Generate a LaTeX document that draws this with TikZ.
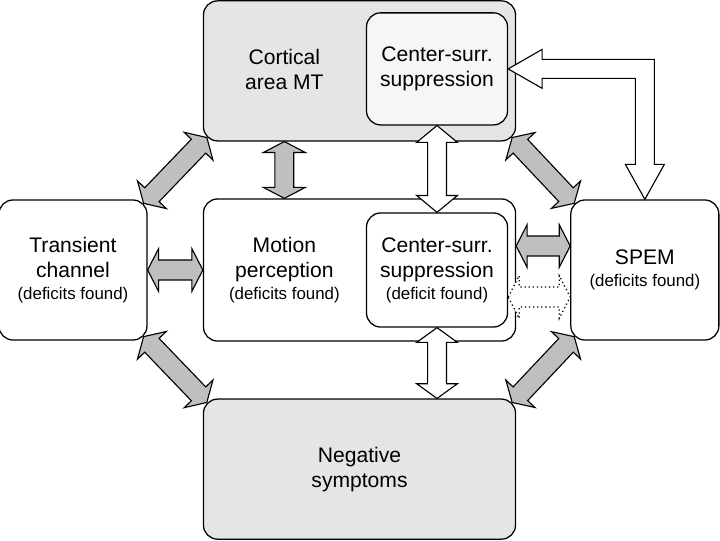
\documentclass[tikz,border=0pt]{standalone}
\usepackage{fontspec}
\setmainfont{Liberation Sans}
\usetikzlibrary{positioning,calc}

\newcommand{\found}[1]{{\fontsize{12}{14}\selectfont #1}}
\newcommand{\dblarrow}[6][]{%
  \path[#1] let \p1=(#2), \p2=(#3), \n1={atan2(\y2-\y1,\x2-\x1)} in
    (\p1) -- ($(\p1)+(\n1:#4)+(\n1+90:#6)$) -- ($(\p1)+(\n1:#4)+(\n1+90:#5)$)
    -- ($(\p2)+(\n1+180:#4)+(\n1+90:#5)$) -- ($(\p2)+(\n1+180:#4)+(\n1+90:#6)$)
    -- (\p2) -- ($(\p2)+(\n1+180:#4)+(\n1-90:#6)$) -- ($(\p2)+(\n1+180:#4)+(\n1-90:#5)$)
    -- ($(\p1)+(\n1:#4)+(\n1-90:#5)$) -- ($(\p1)+(\n1:#4)+(\n1-90:#6)$) -- cycle;}

\begin{document}
\begin{tikzpicture}[x=0.025cm,y=-0.025cm,node distance=1.42cm,
    box/.style={draw,line width=0.9pt,rounded corners=10pt,align=center,
      font=\fontsize{15}{17.7}\selectfont},
    bigbox/.style={box,minimum width=7.8cm,minimum height=3.5cm},
    sidebox/.style={box,minimum width=3.7cm,minimum height=3.5cm},
    innerbox/.style={box,minimum width=3.525cm,minimum height=2.85cm},
    lbl/.style={align=center,font=\fontsize{15}{17.7}\selectfont},
    grayarrow/.style={draw,line width=0.8pt,fill=gray!50},
    whitearrow/.style={draw,line width=0.8pt,fill=white},
    dotarrow/.style={draw,line width=0.9pt,dotted,fill=white}]
  \useasboundingbox (0,0) rectangle (720,540);

  \node[bigbox,minimum height=3.55cm] (motion) at (359.5,270) {};
  \node[bigbox,fill=gray!20] (mt)    [above=of motion] {};
  \node[bigbox,fill=gray!20] (neg)   [below=of motion] {Negative\\symptoms};
  \node[sidebox]             (trans) [left=1.38cm of motion]
    {Transient\\channel\\[-2pt]\found{(deficits found)}};
  \node[sidebox]             (spem)  [right=1.35cm of motion]
    {SPEM\\[-2pt]\found{(deficits found)}};
  \node[innerbox,fill=gray!7,minimum height=2.8cm] (mtcs)
    [left=0.2cm of mt.east,yshift=0.05cm] {Center-surr.\\suppression};
  \node[innerbox]            (mocs)  [left=0.2cm of motion.east]
    {Center-surr.\\suppression\\[-2pt]\found{(deficit found)}};
  \node[lbl] (mtlbl) at ($(mt.west)!0.5!(mtcs.west)$) {Cortical\\area MT};
  \node[lbl] (molbl) at ($(motion.west)!0.5!(mocs.west)$)
    {Motion\\perception\\[-2pt]\found{(deficits found)}};

  \coordinate (tl1) at ($(trans.north east)+(-4,4)$);
  \coordinate (tl2) at ($(mt.south west)+(4,-4)$);
  \coordinate (tr1) at ($(mt.south east)+(-4,-4)$);
  \coordinate (tr2) at ($(spem.north west)+(4,4)$);
  \coordinate (bl1) at ($(trans.south east)+(-4,-4)$);
  \coordinate (bl2) at ($(neg.north west)+(4,4)$);
  \coordinate (br1) at ($(spem.south west)+(4,-4)$);
  \coordinate (br2) at ($(neg.north east)+(-4,4)$);
  \coordinate (rg)  at ($(motion.east)+(0,-24)$);
  \coordinate (rd)  at ($(mocs.east)+(0,27)$);
  \coordinate (lc)  at (mtcs.east -| spem.north);

  \dblarrow[grayarrow]{tl1}{tl2}{8.5pt}{7.1pt}{14.2pt}
  \dblarrow[grayarrow]{tr1}{tr2}{8.5pt}{7.1pt}{14.2pt}
  \dblarrow[grayarrow]{bl1}{bl2}{8.5pt}{7.1pt}{14.2pt}
  \dblarrow[grayarrow]{br1}{br2}{8.5pt}{7.1pt}{14.2pt}
  \dblarrow[grayarrow]{mtlbl |- mt.south}{mtlbl |- motion.north}{7.8pt}{6.7pt}{14.9pt}
  \dblarrow[grayarrow]{trans.east}{trans.east -| motion.west}{7.8pt}{7.1pt}{15.2pt}
  \dblarrow[grayarrow]{rg}{rg -| spem.west}{7.8pt}{7.1pt}{15.2pt}
  \dblarrow[dotarrow]{rd}{rd -| spem.west}{7.8pt}{7.1pt}{15.2pt}
  \dblarrow[whitearrow]{mtcs.south}{mocs.north}{12pt}{6.7pt}{14.5pt}
  \dblarrow[whitearrow]{mocs.south}{mocs.south |- neg.north}{10.5pt}{6.7pt}{14.5pt}

  \path[whitearrow] (mtcs.east) -- ++(34,-19.5) -- ++(0,10)
    -- ($(lc)+(9.5,-9.5)$) -- ($(spem.north)+(9.5,-35)$) -- ++(10,0)
    -- (spem.north) -- ++(-19.5,-35) -- ++(10,0)
    -- ($(lc)+(-9.5,9.5)$) -- ($(mtcs.east)+(34,9.5)$) -- ++(0,10) -- cycle;
\end{tikzpicture}
\end{document}
